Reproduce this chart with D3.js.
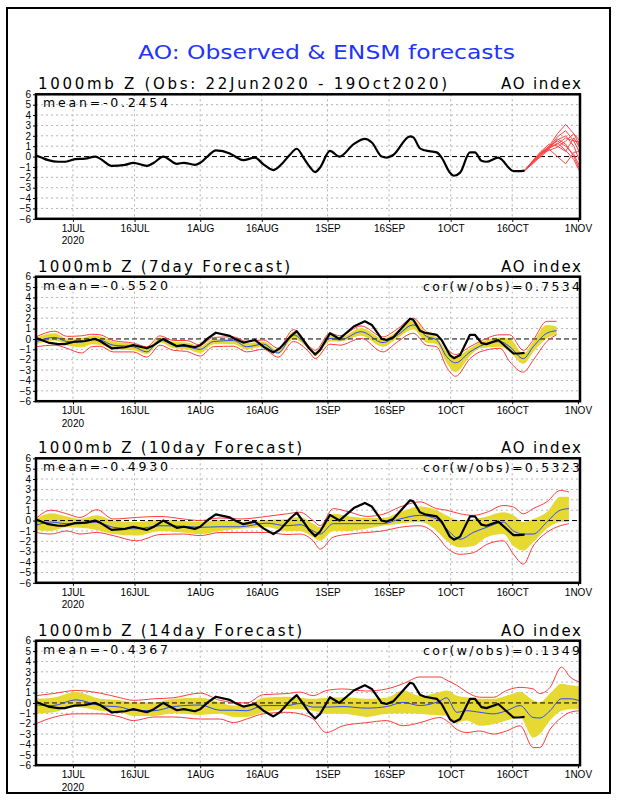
<!DOCTYPE html>
<html><head><meta charset="utf-8">
<script src="https://cdn.jsdelivr.net/npm/d3@7"></script>
<style>body{margin:0;background:#fff}svg{display:block}</style>
</head><body><svg id="c" width="618" height="800"></svg>
<script>
// ---------------- DATA ----------------
// day offsets are counted from 22 Jun 2020
const tickDays   = [9, 24, 40, 55, 71, 86, 101, 116, 132];
const tickLabels = ["1JUL","16JUL","1AUG","16AUG","1SEP","16SEP","1OCT","16OCT","1NOV"];
const yTickVals  = [-6,-5,-4,-3,-2,-1,0,1,2,3,4,5,6];

const obsDays = [0,1.3,3,5.4,7,9.5,12,14.4,15.6,18.4,21.7,23.7,27,28.7,31,34.3,36,38.7,40,42,43.8,47.2,48.5,50.5,53.3,55.4,57.8,59.4,61.9,63.5,65.3,66.5,68,69.2,71.6,73.9,77.4,80.1,81.8,84.2,85.4,87,91.1,91.9,93.5,94.7,97.6,98.8,100.8,101.8,103.3,105.7,106.9,108.5,109.7,112.6,116.3,117.5,119];
const obsVals = [0.1,-0.1,-0.35,-0.5,-0.5,-0.25,-0.2,0,-0.2,-0.9,-0.8,-0.6,-0.9,-0.6,0,-0.7,-0.6,-0.8,-0.6,0.1,0.6,0.3,0,-0.35,-0.1,-0.75,-1.3,-0.9,0.2,0.75,-0.2,-0.9,-1.5,-1.05,0.55,0,1.2,1.7,1.35,0,-0.1,0.15,1.95,1.85,0.8,0.6,0.4,-0.1,-1.55,-1.85,-1.55,0.4,0.4,-0.4,-0.5,-0.1,-1.4,-1.4,-1.35];

// ensemble forecasts from 19Oct (panel 1)
const ensDays = [119,121,123,125,127,129,131,132.5];
const ens01 = [-1.35,-0.5,0.4,1.0,2.2,3.1,2.2,1.0];
const ens02 = [-1.35,-0.6,0.2,0.8,1.2,1.8,1.5,1.4];
const ens03 = [-1.35,-0.4,0.4,0.8,1.3,0.6,-0.3,-1.5];
const ens04 = [-1.35,-0.7,0.1,0.9,1.6,2.0,1.0,-0.5];
const ens05 = [-1.35,-0.5,0.3,0.6,0.9,1.5,2.2,1.5];
const ens06 = [-1.35,-0.6,0.0,0.7,0.0,-0.7,0.4,0.5];
const ens07 = [-1.35,-0.5,0.3,1.0,1.5,1.0,0.2,-1.0];
const ens08 = [-1.35,-0.6,0.2,0.9,1.9,2.5,1.5,0.3];
const ens09 = [-1.35,-0.4,0.5,1.2,1.0,0.5,1.8,0.8];
const ens10 = [-1.35,-0.5,0.3,0.8,1.7,1.2,0.0,-1.3];

// 7-day forecast
const f7Days   = [0,4.6,7.5,11.1,13.6,15.6,18.8,23.7,27,30.2,33.5,36.7,40,43.2,48.1,51.3,55.4,59,62.7,66.7,68,71.6,74,79.2,84.5,87.8,91.9,95.1,97.6,100,102.2,105.7,108.1,113,115.4,118.7,121.1,124.4,126.8];
const f7RedTop = [0.2,0.75,0.25,0.3,0.45,0.4,-0.15,-0.4,-0.75,0.3,-0.15,-0.15,-0.6,0.15,0.2,-0.25,-0.1,-0.9,0.9,-0.75,-1.1,0.55,0.3,1.25,0.2,0.9,2.0,0.7,0.4,-0.9,-1.5,-0.75,-0.25,0.4,0.4,-1.1,-0.1,1.7,1.7];
const f7YelTop = [0.15,0.55,0.05,0.1,0.3,0.25,-0.25,-0.5,-0.9,0.15,-0.3,-0.35,-0.7,0,0,-0.4,-0.25,-1.1,0.7,-0.9,-1.25,0.4,0.15,1.05,0.05,0.7,1.85,0.55,0.15,-1.1,-1.7,-0.9,-0.35,0.15,0.05,-1.4,-0.25,1.35,1.2];
const f7Mean   = [-0.25,0.15,-0.25,-0.3,-0.05,-0.1,-0.6,-0.75,-1.25,-0.1,-0.6,-0.75,-1.0,-0.25,-0.15,-0.75,-0.5,-1.35,0.4,-1.0,-1.45,0.05,-0.1,0.7,-0.35,0.3,1.35,0.25,-0.1,-1.7,-2.3,-1.25,-0.7,-0.25,-0.75,-1.9,-0.75,0.55,0.8];
const f7YelBot = [-0.5,-0.15,-0.6,-0.8,-0.5,-0.55,-1.0,-1.1,-1.45,-0.35,-0.9,-1.0,-1.35,-0.5,-0.5,-1.0,-0.75,-1.45,0,-1.1,-1.65,-0.25,-0.25,0.3,-0.75,0,0.9,-0.35,-0.5,-2.3,-3.2,-1.65,-0.9,-0.75,-1.25,-2.4,-1.25,0.05,0.4];
const f7RedBot = [-0.75,-0.6,-0.9,-1.35,-0.75,-0.7,-1.25,-1.25,-1.75,-0.6,-1.1,-1.2,-1.65,-0.75,-0.7,-1.25,-1.0,-1.75,-0.25,-1.35,-1.9,-0.5,-0.6,0.05,-1.25,-0.35,0.55,-0.6,-0.75,-2.7,-3.6,-1.9,-1.25,-0.9,-2.2,-3.2,-2.05,-0.25,0.4];

// 10-day forecast
const f10Days   = [0,3.6,7.5,10.7,14.8,18.8,24.5,30.2,35.9,40,44.8,49.7,56.2,61.1,64.3,67.5,69.2,72.4,76.5,80.5,84.5,88.6,93.5,97.6,100,103.3,106.5,109.8,113.8,116.3,118.7,121.1,124.4,127.7,129.8];
const f10RedTop = [0.2,1.0,0.65,0.3,1.05,0.15,0.3,0.4,0.15,0.0,0.25,0.15,0.4,0.65,0.8,0.0,-0.5,1.15,0.8,0.4,0.6,1.3,1.8,1.15,1.0,0.65,0.5,0.8,1.45,1.3,0.65,1.15,1.8,2.9,2.75];
const f10YelTop = [0.15,0.7,0.4,0.15,0.5,0,-0.15,0.05,-0.05,-0.15,0.05,-0.15,0.05,0.15,0.35,-0.3,-0.65,0.65,0.4,0.25,0.25,0.8,1.35,1.0,0.5,0,0.15,0.4,0.8,0.5,-0.15,0.15,0.8,2.3,2.3];
const f10Mean   = [-0.45,-0.15,-0.3,-0.3,-0.15,-0.65,-0.8,-0.5,-0.55,-0.65,-0.6,-0.6,-0.25,-0.5,-0.4,-1.0,-1.3,-0.3,-0.3,-0.3,-0.3,0.15,0.5,0.15,-0.8,-1.8,-1.15,-0.65,-0.15,-1.0,-1.3,-1.3,-0.15,1.0,1.15];
const f10YelBot = [-0.9,-1.0,-0.65,-0.7,-0.9,-1.3,-1.45,-1.0,-1.15,-1.3,-1.0,-0.8,-0.65,-1.0,-1.0,-1.6,-1.95,-1.0,-1.0,-0.8,-0.5,-0.3,-0.15,-1.0,-1.95,-2.6,-2.45,-1.6,-1.3,-2.45,-2.9,-2.1,-0.8,-0.15,-0.1];
const f10RedBot = [-1.15,-1.3,-1.0,-1.3,-1.15,-1.45,-1.95,-1.35,-1.3,-1.45,-1.15,-1.15,-1.15,-1.35,-1.3,-1.95,-2.75,-1.6,-1.3,-1.15,-1.0,-0.65,-0.5,-1.45,-2.6,-3.25,-3.1,-2.3,-1.95,-3.25,-4.2,-2.45,-1.15,-0.5,-0.3];

// 14-day forecast
const f14Days   = [0,4.1,9.7,15.6,20.5,23.7,28.7,33.5,40,44.8,48.1,51.3,55.4,61.1,64.3,67.5,70.7,74.8,80.5,85.4,89.4,93.5,98.4,100,102.5,104.9,108.1,111.4,114.6,117.9,121.1,122.7,125.2,128,130.1,132.5];
const f14RedTop = [0.7,0.9,1.2,0.95,0.5,0.25,0.4,0.5,0.95,0.25,0.05,0.0,0.8,0.9,1.05,0.7,1.2,1.35,1.15,1.35,1.85,2.5,2.5,2.2,1.7,1.05,0.55,0.55,1.2,1.5,1.35,0.9,1.5,3.45,2.5,2.0];
const f14YelTop = [0.4,0.5,1.05,0.4,0.25,0.05,0.05,0.4,0.5,0.05,-0.25,-0.25,0.5,0.6,0.5,0.4,0.5,0.55,0.4,0.5,1.2,0.7,1.05,1.2,0.7,0.55,0.4,0.4,0.7,1.05,0.25,0.05,0.9,1.85,1.7,1.6];
const f14Mean   = [-0.2,-0.25,0.3,-0.25,-0.4,-0.7,-0.75,-0.35,-0.2,-0.7,-0.7,-0.75,-0.25,-0.25,-0.05,-0.4,-0.4,-0.35,-0.5,-0.35,0.05,-0.25,0.2,0.5,-0.9,-0.75,-0.9,-1.05,-0.75,-0.25,-1.4,-1.45,-0.75,0.4,0.4,0.2];
const f14YelBot = [-1.05,-0.9,-0.4,-0.75,-0.9,-1.25,-1.25,-1.0,-1.15,-1.05,-1.35,-1.35,-0.9,-0.6,-0.6,-0.75,-1.05,-1.05,-1.35,-1.05,-1.0,-1.05,-1.2,-1.2,-1.9,-1.7,-2.2,-2.05,-1.7,-1.4,-3.35,-3.0,-1.7,-0.75,-0.6,-0.6];
const f14RedBot = [-2.0,-1.4,-1.05,-1.05,-1.35,-1.7,-1.35,-1.35,-1.55,-1.55,-1.9,-1.55,-1.05,-0.9,-1.05,-1.55,-2.85,-2.2,-1.9,-1.7,-2.2,-1.9,-1.4,-1.7,-2.55,-2.85,-2.7,-3.0,-2.7,-2.2,-4.3,-4.3,-2.55,-1.4,-0.9,-0.75];

const mainTitle   = "AO: Observed & ENSM forecasts";
const panelTitles = ["1000mb Z (Obs: 22Jun2020 - 19Oct2020)","1000mb Z (7day Forecast)","1000mb Z (10day Forecast)","1000mb Z (14day Forecast)"];
const rightTitle  = "AO index";
const meanLabels  = ["mean=-0.2454","mean=-0.5520","mean=-0.4930","mean=-0.4367"];
const corLabels   = [null,"cor(w/obs)=0.7534","cor(w/obs)=0.5323","cor(w/obs)=0.1349"];

// ---------------- DRAW ----------------
const svg = d3.select("#c");
const FONT = "DejaVu Sans, sans-serif";
const START = Date.UTC(2020,5,22);
const toDate = d => new Date(START + d*86400000);

svg.append("rect").attr("x",7).attr("y",8).attr("width",603).attr("height",785)
  .attr("fill","none").attr("stroke","#000").attr("stroke-width",2);

svg.append("text").attr("x",326.5).attr("y",59).attr("text-anchor","middle")
  .attr("font-family",FONT).attr("font-size",19).attr("fill","#2233ff")
  .attr("textLength",377).attr("lengthAdjust","spacingAndGlyphs").text(mainTitle);

const L = 36, R = 580, H = 124.5;
const tops = [94.3, 276.7, 458.3, 640.7];
const x = d3.scaleUtc().domain([toDate(0), toDate(132.5)]).range([L, R]);
const titleWidths = [409, 252, 264, 264];

const forecasts = [null,
  {days:f7Days, rt:f7RedTop, yt:f7YelTop, m:f7Mean, yb:f7YelBot, rb:f7RedBot},
  {days:f10Days, rt:f10RedTop, yt:f10YelTop, m:f10Mean, yb:f10YelBot, rb:f10RedBot},
  {days:f14Days, rt:f14RedTop, yt:f14YelTop, m:f14Mean, yb:f14YelBot, rb:f14RedBot}];
const ensemble = [ens01,ens02,ens03,ens04,ens05,ens06,ens07,ens08,ens09,ens10];
const obs = obsDays.map((d,i)=>({d, v:obsVals[i]}));

tops.forEach((T, p) => {
  const B = T + H;
  const y = d3.scaleLinear().domain([-6,6]).range([B, T]);
  const g = svg.append("g");
  const cid = "clip"+p;
  g.append("clipPath").attr("id",cid).append("rect").attr("x",L).attr("y",T).attr("width",R-L).attr("height",H);

  // grid
  const grid = g.append("g");
  grid.selectAll("line.h").data(yTickVals.filter(v=>v>-6&&v<6&&v!==0)).join("line")
    .attr("x1",L).attr("x2",R).attr("y1",d=>y(d)).attr("y2",d=>y(d))
    .attr("stroke","#b4b4b4").attr("stroke-dasharray","2,3").attr("stroke-width",1);
  grid.selectAll("line.v").data(tickDays.filter(d=>d<132)).join("line")
    .attr("x1",d=>x(toDate(d))).attr("x2",d=>x(toDate(d))).attr("y1",T).attr("y2",B)
    .attr("stroke","#b4b4b4").attr("stroke-dasharray","2,3").attr("stroke-width",1);

  const plot = g.append("g").attr("clip-path",`url(#${cid})`);
  const f = forecasts[p];
  if (f) {
    const rows = f.days.map((d,i)=>({d, rt:f.rt[i], yt:f.yt[i], m:f.m[i], yb:f.yb[i], rb:f.rb[i]}));
    const cx = r => x(toDate(r.d));
    plot.append("path").datum(rows).attr("fill","#e6d932")
      .attr("d", d3.area().x(cx).y0(r=>y(r.yb)).y1(r=>y(r.yt)).curve(d3.curveMonotoneX));
    // zero line above band
    plot.append("line").attr("x1",L).attr("x2",R).attr("y1",y(0)).attr("y2",y(0))
      .attr("stroke","#000").attr("stroke-dasharray","5,3").attr("stroke-width",1);
    ["rt","rb"].forEach(k => plot.append("path").datum(rows).attr("fill","none")
      .attr("stroke","#ff3b3b").attr("stroke-width",1)
      .attr("d", d3.line().x(cx).y(r=>y(r[k])).curve(d3.curveMonotoneX)));
    plot.append("path").datum(rows).attr("fill","none").attr("stroke","#2a4bff").attr("stroke-width",1)
      .attr("d", d3.line().x(cx).y(r=>y(r.m)).curve(d3.curveMonotoneX));
    plot.append("path").datum(obs).attr("fill","none").attr("stroke","#000").attr("stroke-width",2.2)
      .attr("stroke-linejoin","round")
      .attr("d", d3.line().x(o=>x(toDate(o.d))).y(o=>y(o.v)).curve(d3.curveLinear));
  } else {
    plot.append("line").attr("x1",L).attr("x2",R).attr("y1",y(0)).attr("y2",y(0))
      .attr("stroke","#000").attr("stroke-dasharray","5,3").attr("stroke-width",1);
    ensemble.forEach(m => plot.append("path").datum(ensDays.map((d,i)=>({d, v:m[i]})))
      .attr("fill","none").attr("stroke","#ff4444").attr("stroke-width",1)
      .attr("d", d3.line().x(o=>x(toDate(o.d))).y(o=>y(o.v))));
    plot.append("path").datum(obs).attr("fill","none").attr("stroke","#000").attr("stroke-width",2.2)
      .attr("stroke-linejoin","round")
      .attr("d", d3.line().x(o=>x(toDate(o.d))).y(o=>y(o.v)).curve(d3.curveMonotoneX));
  }

  // axes
  const ax = g.append("g").attr("transform",`translate(0,${B})`)
    .call(d3.axisBottom(x).tickValues(tickDays.map(toDate)).tickSize(3).tickPadding(3)
      .tickFormat((d,i)=>tickLabels[i]));
  ax.select(".domain").remove();
  ax.selectAll("text").attr("font-family","Liberation Sans, Arial, sans-serif").attr("font-size",10).attr("fill","#000");
  const ay = g.append("g").attr("transform",`translate(${L},0)`)
    .call(d3.axisLeft(y).tickValues(yTickVals).tickSize(3).tickPadding(2).tickFormat(d3.format("d")));
  ay.select(".domain").remove();
  ay.selectAll("text").attr("font-family","Liberation Sans, Arial, sans-serif").attr("font-size",10).attr("fill","#000");
  g.append("text").attr("x",x(toDate(tickDays[0]))).attr("y",B+25.6).attr("text-anchor","middle")
    .attr("font-family","Liberation Sans, Arial, sans-serif").attr("font-size",10).text("2020");

  // frame
  g.append("rect").attr("x",L).attr("y",T).attr("width",R-L).attr("height",H)
    .attr("fill","none").attr("stroke","#000").attr("stroke-width",2.5);

  // texts
  g.append("text").attr("x",38).attr("y",T-5).attr("font-family",FONT).attr("font-size",15)
    .attr("textLength",titleWidths[p]).attr("lengthAdjust","spacing").text(panelTitles[p]);
  g.append("text").attr("x",581).attr("y",T-5).attr("text-anchor","end").attr("font-family",FONT)
    .attr("font-size",15).attr("textLength",80).attr("lengthAdjust","spacing").text(rightTitle);
  g.append("text").attr("x",43).attr("y",T+13).attr("font-family",FONT).attr("font-size",12.5)
    .attr("textLength",125).attr("lengthAdjust","spacing").text(meanLabels[p]);
  if (corLabels[p]) g.append("text").attr("x",580).attr("y",T+14).attr("text-anchor","end")
    .attr("font-family",FONT).attr("font-size",12.5).attr("textLength",157).attr("lengthAdjust","spacing")
    .text(corLabels[p]);
});
</script></body></html>
